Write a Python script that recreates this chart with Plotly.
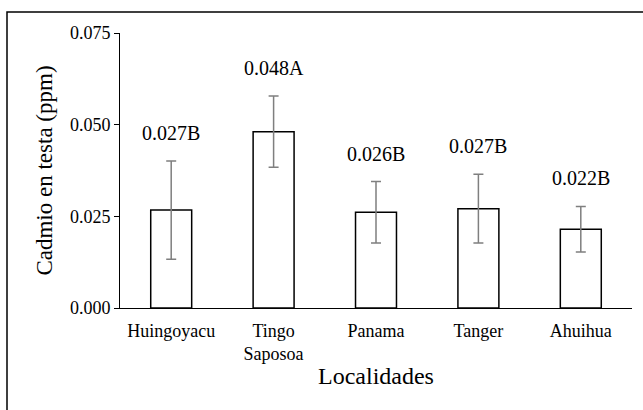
import plotly.graph_objects as go

categories = ["Huingoyacu", "Tingo<br>Saposoa", "Panama", "Tanger", "Ahuihua"]
means = [0.0267, 0.0481, 0.0261, 0.0271, 0.0215]
errors = [0.0134, 0.0097, 0.0084, 0.0094, 0.0062]
labels = ["0.027B", "0.048A", "0.026B", "0.027B", "0.022B"]
y_ticks = [0.000, 0.025, 0.050, 0.075]
y_tick_text = ["0.000", "0.025", "0.050", "0.075"]

FONT = "Liberation Serif"

fig = go.Figure()
fig.add_trace(go.Bar(
    x=categories, y=means,
    marker=dict(color="white", line=dict(color="black", width=1.5)),
    width=0.4,
    error_y=dict(type="data", array=errors, visible=True, color="#7f7f7f", thickness=1.5, width=5),
    showlegend=False,
))

for c, m, e, t in zip(categories, means, errors, labels):
    fig.add_annotation(x=c, y=m + e, text=t, showarrow=False, yanchor="middle", yshift=28,
                       font=dict(family=FONT, size=20, color="black"))

fig.add_shape(type="rect", xref="paper", yref="paper",
              x0=-0.2207, x1=1.04, y0=-0.45, y1=1.0764,
              line=dict(color="black", width=1.5), fillcolor="rgba(0,0,0,0)", layer="below")

fig.update_layout(
    width=643, height=410,
    margin=dict(l=120, r=11, t=33, b=102),
    paper_bgcolor="white", plot_bgcolor="white",
    font=dict(family=FONT, color="black"),
    xaxis=dict(
        showline=True, linecolor="black", linewidth=1, ticks="",
        ticklabelstandoff=6,
        tickfont=dict(family=FONT, size=18, color="black"),
        title=dict(text="Localidades", font=dict(family=FONT, size=24, color="black"), standoff=4),
        showgrid=False, zeroline=False,
    ),
    yaxis=dict(
        range=[0, 0.075], tickvals=y_ticks, ticktext=y_tick_text,
        showline=True, linecolor="black", linewidth=1, ticks="outside", ticklen=5, tickcolor="black",
        tickfont=dict(family=FONT, size=18, color="black"),
        title=dict(text="Cadmio en testa (ppm)", font=dict(family=FONT, size=23, color="black"), standoff=10),
        showgrid=False, zeroline=False,
    ),
)

fig.write_html("out.html", config={"displayModeBar": False},
               post_script="document.body.style.margin='0';")
